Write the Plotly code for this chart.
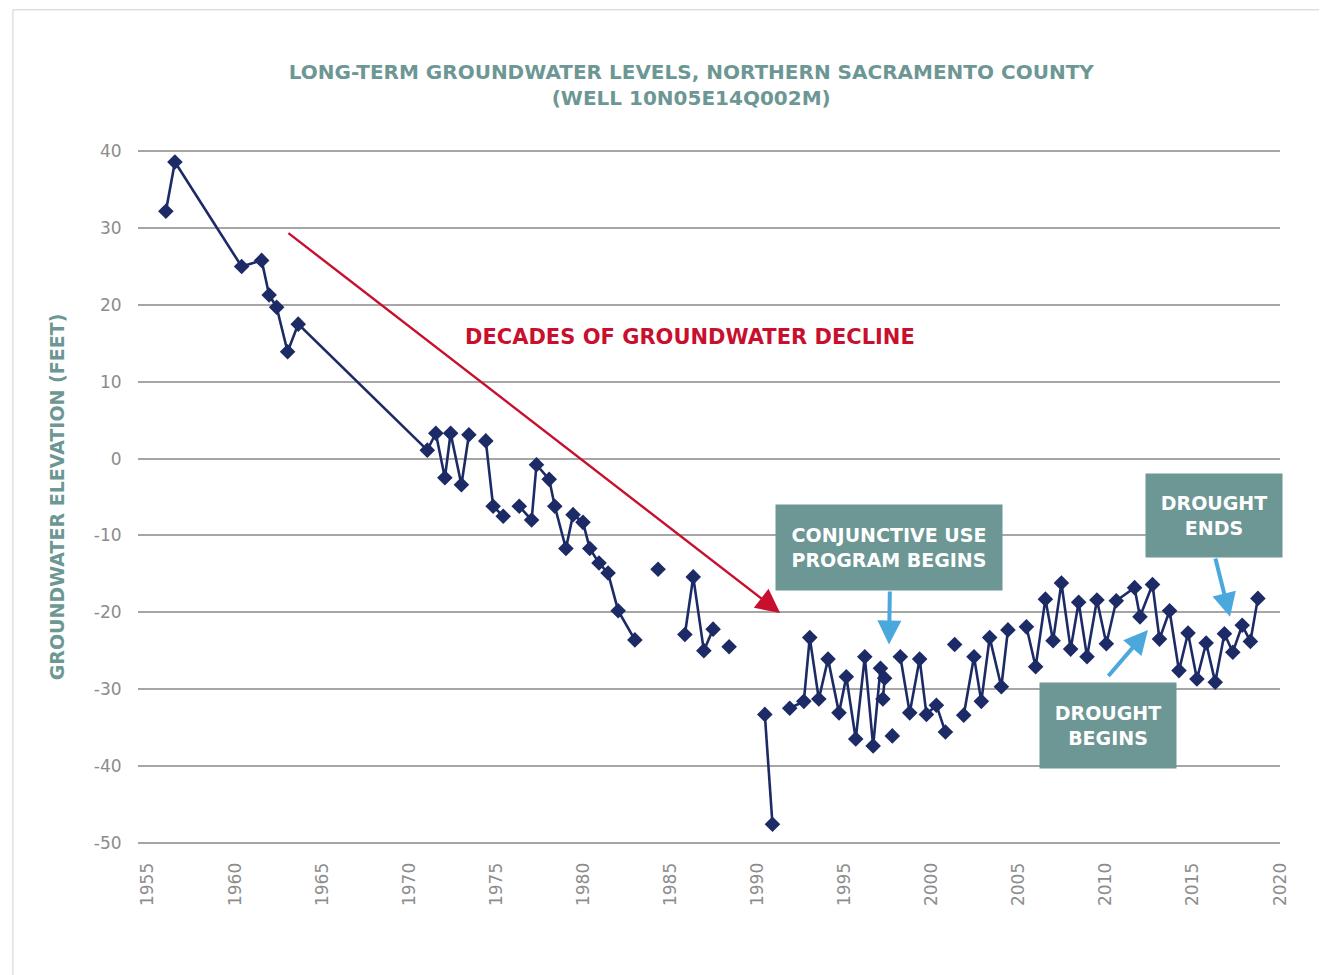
import plotly.graph_objects as go

# well 10N05E14Q002M readings (decimal year, feet); None = break in the record
years = [
    1956.03, 1956.55, 1960.38, 1961.53, 1961.96, 1962.39, 1963.02, 1963.63,
    1971.04, 1971.53, 1972.05, 1972.38, 1973.0, 1973.43, None,
    1974.4, 1974.82, 1975.4, None,
    1976.32, 1977.03, 1977.31, 1978.04, 1978.36, 1979.0, 1979.41, 1979.98,
    1980.37, 1980.9, 1981.42, 1982.0, 1982.96, None,
    1984.29, None,
    1985.83, 1986.31, 1986.92, 1987.45, None,
    1988.37, None,
    1990.42, 1990.86, None,
    1991.85, 1992.66, 1993.0, 1993.52, 1994.05, 1994.68, 1995.1, 1995.64,
    1996.16, 1996.64, 1997.06, 1997.3, 1997.2, None,
    1997.74, None,
    1998.2, 1998.74, 1999.31, 1999.7, 2000.27, 2000.79, None,
    2001.32, None,
    2001.84, 2002.43, 2002.85, 2003.33, 2004.0, 2004.38, None,
    2005.44, 2005.97, 2006.53, 2006.97, 2007.45, 2007.98, 2008.44, 2008.92,
    2009.49, 2010.03, 2010.6, 2011.65, 2011.96, 2012.68, 2013.08, 2013.66,
    2014.2, 2014.72, 2015.23, 2015.76, 2016.28, 2016.81, 2017.29, 2017.83,
    2018.3, 2018.73,
]
elevation = [
    32.2, 38.6, 25.0, 25.8, 21.3, 19.7, 13.9, 17.5,
    1.1, 3.3, -2.5, 3.3, -3.4, 3.1, None,
    2.3, -6.2, -7.5, None,
    -6.2, -8.0, -0.8, -2.7, -6.2, -11.7, -7.3, -8.3,
    -11.7, -13.6, -14.9, -19.8, -23.6, None,
    -14.4, None,
    -22.9, -15.4, -25.0, -22.2, None,
    -24.5, None,
    -33.3, -47.6, None,
    -32.5, -31.6, -23.3, -31.3, -26.1, -33.1, -28.4, -36.5,
    -25.8, -37.4, -27.3, -28.6, -31.3, None,
    -36.1, None,
    -25.8, -33.1, -26.1, -33.3, -32.1, -35.6, None,
    -24.2, None,
    -33.4, -25.8, -31.6, -23.3, -29.7, -22.3, None,
    -21.9, -27.1, -18.3, -23.7, -16.2, -24.8, -18.7, -25.8,
    -18.4, -24.1, -18.5, -16.8, -20.6, -16.4, -23.5, -19.8,
    -27.6, -22.7, -28.7, -24.0, -29.1, -22.8, -25.2, -21.7,
    -23.8, -18.2,
]

y_ticks = [40, 30, 20, 10, 0, -10, -20, -30, -40, -50]
y_labels = [str(v) for v in y_ticks]   # plain hyphen, not unicode minus
x_ticks = list(range(1955, 2021, 5))

NAVY = "#1c2b66"
TEAL = "#6c9794"
RED = "#c8102e"
BLUE = "#4aa8dc"
GREY_TXT = "#8c8c8c"
FONT = "DejaVu Sans"

fig = go.Figure()
fig.add_trace(go.Scatter(
    x=years, y=elevation,
    mode="lines+markers",
    connectgaps=False,
    line=dict(color=NAVY, width=2.6),
    marker=dict(symbol="diamond", size=12, color=NAVY),
    showlegend=False,
))

notes = []
# long decline arrow + label
notes.append(dict(x=1991.3, y=-20.1, ax=1962.98, ay=29.5, axref="x", ayref="y",
                  text="", showarrow=True, arrowhead=2, arrowsize=2.0,
                  arrowwidth=2.4, arrowcolor=RED))
notes.append(dict(x=1986.1, y=15.8, text="<b>DECADES OF GROUNDWATER DECLINE</b>",
                  showarrow=False, font=dict(family=FONT, size=21, color=RED)))

# boxes with their pointers
boxes = [
    ("CONJUNCTIVE USE<br>PROGRAM BEGINS", 1997.55, -11.55, 226, 85),
    ("DROUGHT<br>ENDS", 2016.21, -7.4, 136, 83),
    ("DROUGHT<br>BEGINS", 2010.12, -34.7, 136, 85),
]
for txt, bx, by, w, h in boxes:
    notes.append(dict(x=bx, y=by, text="<b>" + txt + "</b>", showarrow=False,
                      width=w, height=h, bgcolor=TEAL, borderpad=0,
                      font=dict(family=FONT, size=19, color="white")))

pointers = [
    (1997.6, -17.1, 1997.55, -24.2),
    (2016.27, -12.8, 2017.13, -20.6),
    (2010.07, -28.5, 2012.42, -22.3),
]
for x0, y0, x1, y1 in pointers:
    notes.append(dict(x=x1, y=y1, ax=x0, ay=y0, axref="x", ayref="y", text="",
                      showarrow=True, arrowhead=2, arrowsize=1.2,
                      arrowwidth=4, arrowcolor=BLUE))

fig.update_layout(
    width=1319, height=967,
    paper_bgcolor="white", plot_bgcolor="white",
    margin=dict(l=130, r=47, t=141, b=130),
    title=dict(
        text="LONG-TERM GROUNDWATER LEVELS, NORTHERN SACRAMENTO COUNTY<br>(WELL 10N05E14Q002M)",
        x=0.518, xanchor="center", y=0.927, yanchor="top",
        font=dict(family=FONT, size=20, color=TEAL, weight="bold"),
    ),
    annotations=notes,
    shapes=[dict(type="rect", xref="paper", yref="paper",
                 x0=-0.1095, x1=1.035, y0=-0.3, y1=1.2,
                 line=dict(color="#cfcfcf", width=1), layer="below")],
)

fig.update_xaxes(
    range=[1954.43, 2020], tickvals=x_ticks, tickangle=-90,
    showgrid=False, zeroline=False, showline=False,
    ticks="outside", ticklen=10, tickcolor="rgba(0,0,0,0)",
    tickfont=dict(family=FONT, size=17, color=GREY_TXT),
)
fig.update_yaxes(
    range=[-50.3, 40.3], tickvals=y_ticks, ticktext=y_labels,
    showgrid=True, gridcolor="#a6a6a6", gridwidth=1.5, zeroline=False,
    ticks="outside", ticklen=12, tickcolor="rgba(0,0,0,0)",
    tickfont=dict(family=FONT, size=17, color=GREY_TXT),
    title=dict(text="GROUNDWATER ELEVATION (FEET)", standoff=24,
               font=dict(family=FONT, size=19, color=TEAL, weight="bold")),
)

fig.write_html("out.html")
